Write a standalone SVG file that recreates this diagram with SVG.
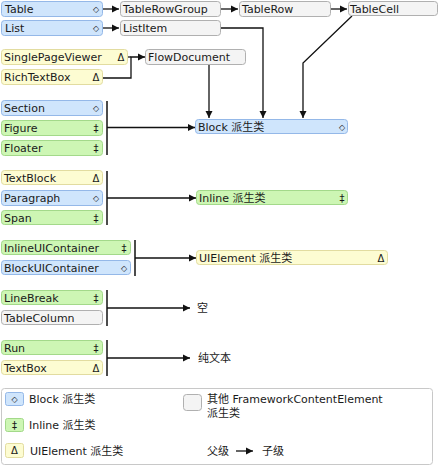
<svg xmlns="http://www.w3.org/2000/svg" width="440" height="466" viewBox="0 0 440 466">
<defs>
<marker id="ah" markerWidth="8" markerHeight="8" refX="7" refY="4" orient="auto" markerUnits="userSpaceOnUse">
<path d="M0,0.5 L7,4 L0,7.5 Z" fill="#111"/>
</marker>
</defs>
<style>
text{font-family:"DejaVu Sans","Noto Sans CJK SC",sans-serif;font-size:11px;fill:#1a1a1a}
.sym{font-size:10px;text-anchor:middle}
.dia{font-size:8px;text-anchor:middle}
.b{fill:#cfe5fc;stroke:#94b8e8;stroke-width:1}
.g{fill:#cdf6b4;stroke:#a3d98a;stroke-width:1}
.y{fill:#fdfcd2;stroke:#e2dca0;stroke-width:1}
.w{fill:#f4f4f4;stroke:#b0b0b0;stroke-width:1}
.c{fill:none;stroke:#111;stroke-width:1.3}
.bar{fill:none;stroke:#111;stroke-width:1.5}
</style>
<rect x="0" y="0" width="440" height="466" fill="#fff"/>

<g id="connectors">
<path class="c" d="M103,9 H119" marker-end="url(#ah)"/>
<path class="c" d="M221,9 H238" marker-end="url(#ah)"/>
<path class="c" d="M331,9 H347" marker-end="url(#ah)"/>
<path class="c" d="M103,28 H119" marker-end="url(#ah)"/>
<path class="c" d="M221,28 H263 V118" marker-end="url(#ah)"/>
<path class="c" d="M128,57 H131"/>
<path class="c" d="M103,78 H131 V57 H145" marker-end="url(#ah)"/>
<path class="c" d="M209,65 V118" marker-end="url(#ah)"/>
<path class="c" d="M352,16 L303,63 V118" marker-end="url(#ah)"/>
<path class="bar" d="M107,101 V155"/>
<path class="c" d="M107,127.5 H195" marker-end="url(#ah)"/>
<path class="bar" d="M107,171 V225"/>
<path class="c" d="M107,198 H196" marker-end="url(#ah)"/>
<path class="bar" d="M135,240 V276"/>
<path class="c" d="M135,258 H196" marker-end="url(#ah)"/>
<path class="bar" d="M107,290 V326"/>
<path class="c" d="M107,308 H190" marker-end="url(#ah)"/>
<path class="bar" d="M107,340 V376"/>
<path class="c" d="M107,358 H190" marker-end="url(#ah)"/>
</g>

<g id="Table"><rect class="b" x="1.5" y="1.5" width="101" height="15" rx="3"/><text x="5" y="13">Table</text><text class="dia" x="96" y="11.5">◇</text></g>
<g id="TableRowGroup"><rect class="w" x="120.5" y="1.5" width="100" height="15" rx="3"/><text x="123" y="13">TableRowGroup</text></g>
<g id="TableRow"><rect class="w" x="239.5" y="1.5" width="91" height="15" rx="3"/><text x="242" y="13">TableRow</text></g>
<g id="TableCell"><rect class="w" x="348.5" y="1.5" width="89" height="14" rx="3"/><text x="350" y="12.5">TableCell</text></g>
<g id="List"><rect class="b" x="1.5" y="20.5" width="101" height="15" rx="3"/><text x="5" y="32">List</text><text class="dia" x="96" y="30.5">◇</text></g>
<g id="ListItem"><rect class="w" x="120.5" y="20.5" width="100" height="15" rx="3"/><text x="123" y="32">ListItem</text></g>
<g id="SinglePageViewer"><rect class="y" x="1.5" y="49.5" width="126" height="15" rx="3"/><text x="4" y="61">SinglePageViewer</text><text class="sym" x="121" y="61">Δ</text></g>
<g id="RichTextBox"><rect class="y" x="1.5" y="69.5" width="101" height="15" rx="3"/><text x="4" y="81">RichTextBox</text><text class="sym" x="96" y="81">Δ</text></g>
<g id="FlowDocument"><rect class="w" x="145.5" y="49.5" width="100" height="15" rx="3"/><text x="148" y="61">FlowDocument</text></g>

<g id="Block"><rect class="b" x="195.5" y="119.5" width="152" height="14" rx="3"/><text x="198" y="131">Block 派生类</text><text class="dia" x="342" y="129.5">◇</text></g>
<g id="Section"><rect class="b" x="1.5" y="100.5" width="101" height="15" rx="3"/><text x="4" y="112">Section</text><text class="dia" x="96" y="110.5">◇</text></g>
<g id="Figure"><rect class="g" x="1.5" y="120.5" width="101" height="15" rx="3"/><text x="4" y="132">Figure</text><text class="sym" x="96" y="131.5">‡</text></g>
<g id="Floater"><rect class="g" x="1.5" y="140.5" width="101" height="15" rx="3"/><text x="4" y="152">Floater</text><text class="sym" x="96" y="151.5">‡</text></g>

<g id="TextBlock"><rect class="y" x="1.5" y="170.5" width="101" height="14" rx="3"/><text x="4" y="182">TextBlock</text><text class="sym" x="96" y="181.5">Δ</text></g>
<g id="Paragraph"><rect class="b" x="1.5" y="190.5" width="101" height="15" rx="3"/><text x="4" y="202">Paragraph</text><text class="dia" x="96" y="200.5">◇</text></g>
<g id="Span"><rect class="g" x="1.5" y="210.5" width="101" height="14" rx="3"/><text x="4" y="222">Span</text><text class="sym" x="96" y="221.5">‡</text></g>
<g id="Inline"><rect class="g" x="196.5" y="190.5" width="151" height="14" rx="3"/><text x="199" y="202">Inline 派生类</text><text class="sym" x="342" y="201.5">‡</text></g>

<g id="InlineUIContainer"><rect class="g" x="1.5" y="240.5" width="129" height="14" rx="3"/><text x="4" y="252">InlineUIContainer</text><text class="sym" x="124" y="251.5">‡</text></g>
<g id="BlockUIContainer"><rect class="b" x="1.5" y="260.5" width="129" height="14" rx="3"/><text x="4" y="272">BlockUIContainer</text><text class="dia" x="124" y="270.5">◇</text></g>
<g id="UIElement"><rect class="y" x="196.5" y="250.5" width="191" height="14" rx="3"/><text x="199" y="262">UIElement 派生类</text><text class="sym" x="381" y="261.5">Δ</text></g>

<g id="LineBreak"><rect class="g" x="1.5" y="290.5" width="101" height="14" rx="3"/><text x="4" y="302">LineBreak</text><text class="sym" x="96" y="301.5">‡</text></g>
<g id="TableColumn"><rect class="w" x="1.5" y="310.5" width="101" height="14" rx="3"/><text x="4" y="322">TableColumn</text></g>
<g id="Empty"><text x="197" y="312">空</text></g>

<g id="Run"><rect class="g" x="1.5" y="340.5" width="101" height="14" rx="3"/><text x="4" y="352">Run</text><text class="sym" x="96" y="351.5">‡</text></g>
<g id="TextBox"><rect class="y" x="1.5" y="360.5" width="101" height="14" rx="3"/><text x="4" y="372">TextBox</text><text class="sym" x="96" y="371.5">Δ</text></g>
<g id="PlainText"><text x="198" y="362">纯文本</text></g>

<g id="legend">
<rect x="1.5" y="388.5" width="431" height="76" rx="3" fill="#fff" stroke="#c8c8c8"/>
<rect class="b" x="5.5" y="392.5" width="18" height="13" rx="2"/><text class="dia" x="14.5" y="401.5">◇</text><text x="29" y="403">Block 派生类</text>
<rect class="g" x="5.5" y="418.5" width="18" height="13" rx="2"/><text class="sym" x="14.5" y="428.5">‡</text><text x="29" y="429">Inline 派生类</text>
<rect class="y" x="5.5" y="443.5" width="18" height="14" rx="2"/><text class="sym" x="14.5" y="454">Δ</text><text x="30" y="455">UIElement 派生类</text>
<rect class="w" x="183.5" y="394.5" width="18" height="16" rx="3"/>
<text x="207" y="403">其他 FrameworkContentElement</text>
<text x="207" y="417">派生类</text>
<text x="207" y="455">父级</text>
<path class="c" d="M236,451 H253" marker-end="url(#ah)"/>
<text x="262" y="455">子级</text>
</g>
</svg>
